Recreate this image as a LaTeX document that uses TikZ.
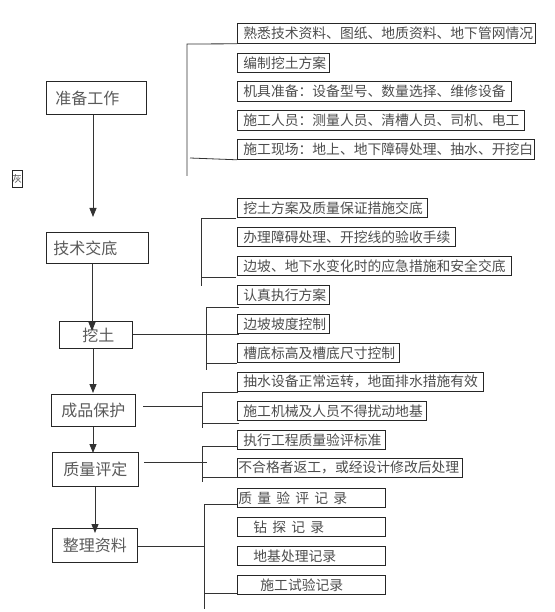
\documentclass[tikz,border=0pt]{standalone}
\usepackage{fontspec}
\usetikzlibrary{arrows.meta}
\newfontfamily\cjk{Noto Sans CJK SC}
\newcommand\lbt[2]{\makebox[#1pt][l]{#2}}
\tikzset{
  lbox/.style={draw=black!85, line width=0.8pt, anchor=north west, inner xsep=6pt, inner ysep=0pt,
    minimum height=19pt, font=\cjk\fontsize{13.8}{14}\selectfont, text=black!70},
  mbox/.style={draw=black!85, line width=0.9pt, anchor=north west, inner sep=0pt,
    font=\cjk\fontsize{16}{17}\selectfont, text=black!65},
  ln/.style={line width=0.8pt, draw=black!80},
  arr/.style={ln, -{Triangle[length=9pt,width=7pt]}},
}
\begin{document}
\begin{tikzpicture}[x=1pt,y=-1pt]
\useasboundingbox (0,0) rectangle (554,612);

% main column
\node[mbox, inner xsep=9pt, minimum height=33pt] (zb) at (46,81) {\lbt{82}{准备工作}};
\node[mbox, inner xsep=7pt, minimum height=31pt] (jd) at (46,232) {\lbt{88}{技术交底}};
\node[mbox, minimum width=73pt, minimum height=27pt] (wt) at (59,321) {\hspace{5pt}挖土};
\node[mbox, minimum width=84pt, minimum height=32pt] (cp) at (51,394) {成品保护};
\node[mbox, minimum width=86pt, minimum height=34pt] (zl) at (52,452) {质量评定};
\node[mbox, minimum width=85pt, minimum height=34pt] (zh) at (52,528) {整理资料};
\node[draw=black!85, line width=0.7pt, anchor=north west, inner sep=0pt, minimum width=9.5pt,
  minimum height=17pt, font=\cjk\fontsize{9.5}{10}\selectfont, text=black!70] (hui) at (12,170) {灰};

% group 1
\node[lbox, minimum height=20pt] (p1) at (237,23)  {\lbt{286}{熟悉技术资料、图纸、地质资料、地下管网情况}};
\node[lbox] (p2) at (237,53)  {\lbt{80}{编制挖土方案}};
\node[lbox, minimum height=20pt] (p3) at (237,81)  {\lbt{262}{机具准备：设备型号、数量选择、维修设备}};
\node[lbox, minimum height=20pt] (p4) at (237,110) {\lbt{275}{施工人员：测量人员、清槽人员、司机、电工}};
\node[lbox, minimum height=20pt] (p5) at (237,139) {\lbt{285}{施工现场：地上、地下障碍处理、抽水、开挖白}};

% group 2
\node[lbox] (t1) at (237,198) {\lbt{178}{挖土方案及质量保证措施交底}};
\node[lbox] (t2) at (237,227) {\lbt{206}{办理障碍处理、开挖线的验收手续}};
\node[lbox] (t3) at (237,256) {\lbt{262}{边坡、地下水变化时的应急措施和安全交底}};
\node[lbox] (t4) at (237,285) {\lbt{80}{认真执行方案}};

% group 3
\node[lbox] (k1) at (237,314) {\lbt{80}{边坡坡度控制}};
\node[lbox] (k2) at (237,343) {\lbt{150}{槽底标高及槽底尺寸控制}};

% group 4
\node[lbox] (c1) at (237,372) {\lbt{234}{抽水设备正常运转，地面排水措施有效}};
\node[lbox] (c2) at (237,401) {\lbt{177}{施工机械及人员不得扰动地基}};

% group 5
\node[lbox] (q1) at (237,430) {\lbt{136}{执行工程质量验评标准}};
\node[lbox, inner xsep=1pt] (q2) at (237,458) {\lbt{223}{不合格者返工，或经设计修改后处理}};

% group 6
\node[lbox, inner xsep=1pt] (r1) at (237,488) {\lbt{146}{质\hspace{5.2pt}量\hspace{5.2pt}验\hspace{5.2pt}评\hspace{5.2pt}记\hspace{5.2pt}录}};
\node[lbox, inner xsep=16pt] (r2) at (237,517) {\lbt{116}{钻\hspace{5.2pt}探\hspace{5.2pt}记\hspace{5.2pt}录}};
\node[lbox, inner xsep=16pt] (r3) at (237,546) {\lbt{116}{地基处理记录}};
\node[lbox, inner xsep=23pt] (r4) at (237,575) {\lbt{102}{施工试验记录}};

% arrow end points
\coordinate (a1) at (93,217);
\coordinate (a2) at (92,331);
\coordinate (a3) at (93,393);
\coordinate (a4) at (93,453);
\coordinate (a5) at (95,533);
\draw[arr] (zb.south -| a1) -- (a1);
\draw[arr] (jd.south -| a2) -- (a2);
\draw[arr] (wt.south -| a3) -- (a3);
\draw[arr] (cp.south -| a4) -- (a4);
\draw[arr] (zl.south -| a5) -- (a5);

% side lines
\coordinate (s3) at (239,334);
\draw[ln] (wt.east |- s3) -- (s3);
\coordinate (s4a) at (143,406); \coordinate (s4b) at (202,406);
\draw[ln] (s4a) -- (s4b);
\coordinate (s5a) at (144,462); \coordinate (s5b) at (207,462);
\draw[ln] (s5a) -- (s5b);
\coordinate (s6) at (204,546);
\draw[ln] (zh.east |- s6) -- (s6);

% brackets
\draw[ln] (p1.south west) -- (187,44) -- (187,176);
\draw[ln] (190,158) -- (p5.south west);
\draw[ln] (236,218) -- (201,218) -- (201,286);
\draw[ln] (201,277) -- (236,277);
\draw[ln] (239,307) -- (206,307) -- (206,370);
\draw[ln] (206,363) -- (237,363);
\draw[ln] (238,392) -- (202,392) -- (202,428);
\draw[ln] (202,423) -- (239,423);
\draw[ln] (238,446) -- (202,446) -- (202,482);
\draw[ln] (202,477) -- (238,477);
\draw[ln] (237,504) -- (204,504) -- (204,609);
\draw[ln] (204,593) -- (237,593);
\end{tikzpicture}
\end{document}
